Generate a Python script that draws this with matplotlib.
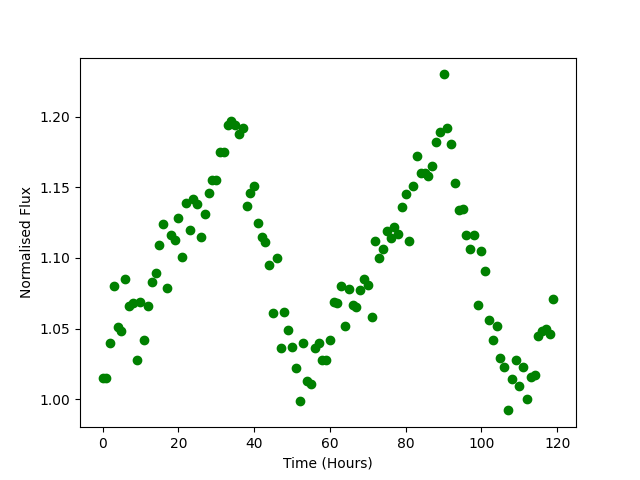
import numpy as np
import matplotlib
matplotlib.use("Agg")
import matplotlib.pyplot as plt

# hours since start of observation
hours = np.arange(120)

# normalised flux
flux = [
    1.015, 1.015, 1.040, 1.080, 1.051, 1.048, 1.085, 1.066, 1.068, 1.028,
    1.069, 1.042, 1.066, 1.083, 1.089, 1.109, 1.124, 1.079, 1.116, 1.113,
    1.128, 1.101, 1.139, 1.120, 1.142, 1.138, 1.115, 1.131, 1.146, 1.155,
    1.155, 1.175, 1.175, 1.194, 1.197, 1.194, 1.188, 1.192, 1.137, 1.146,
    1.151, 1.125, 1.115, 1.111, 1.095, 1.061, 1.100, 1.036, 1.062, 1.049,
    1.037, 1.022, 0.999, 1.040, 1.013, 1.011, 1.036, 1.040, 1.028, 1.028,
    1.042, 1.069, 1.068, 1.080, 1.052, 1.078, 1.067, 1.065, 1.077, 1.085,
    1.081, 1.058, 1.112, 1.100, 1.106, 1.119, 1.114, 1.122, 1.117, 1.136,
    1.145, 1.112, 1.151, 1.172, 1.160, 1.160, 1.158, 1.165, 1.182, 1.189,
    1.230, 1.192, 1.181, 1.153, 1.134, 1.135, 1.116, 1.106, 1.116, 1.067,
    1.105, 1.091, 1.056, 1.042, 1.052, 1.029, 1.023, 0.992, 1.014, 1.028,
    1.009, 1.023, 1.000, 1.016, 1.017, 1.045, 1.048, 1.050, 1.046, 1.071,
]

plt.figure(figsize=(6.4, 4.8), dpi=100)
plt.plot(hours, flux, 'go')
plt.xlabel("Time (Hours)")
plt.ylabel("Normalised Flux")
plt.savefig("out.png")
